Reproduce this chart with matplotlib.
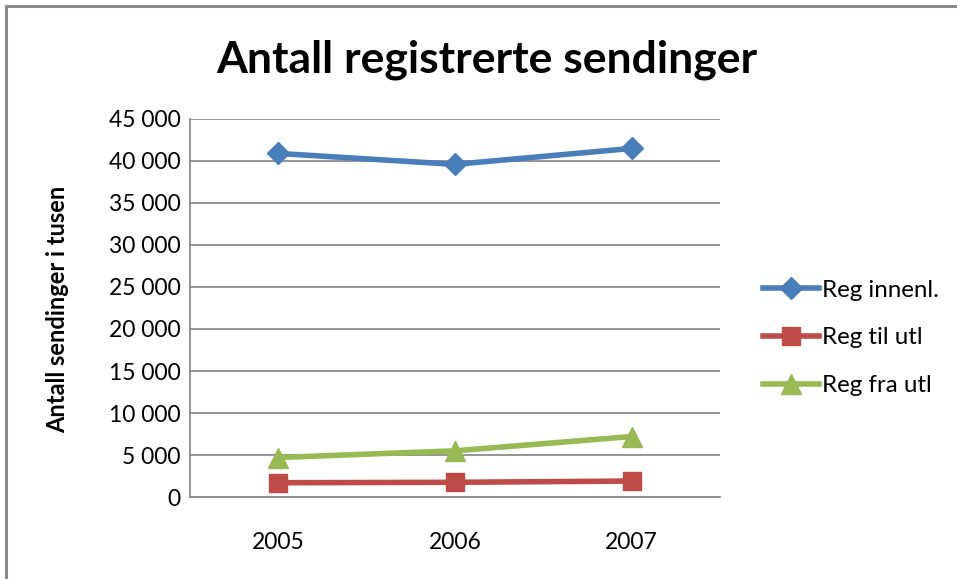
import matplotlib
matplotlib.use("Agg")
import matplotlib.pyplot as plt
from matplotlib.patches import Rectangle
from matplotlib.ticker import FuncFormatter

years = ["2005", "2006", "2007"]
reg_innenl = [40900, 39600, 41500]
reg_til_utl = [1700, 1750, 1900]
reg_fra_utl = [4700, 5500, 7200]
series_names = ["Reg innenl.", "Reg til utl", "Reg fra utl"]
y_ticks = list(range(0, 45001, 5000))

W, H = 957, 579
fig = plt.figure(figsize=(W / 100, H / 100), dpi=100)
plt.rcParams['font.family'] = ['Lato', 'DejaVu Sans']

# outer frame
fig.patches.append(Rectangle((6 / W, -0.1), 1.2, 1 - 6 / H + 0.1, transform=fig.transFigure,
                             fill=False, edgecolor="#8c8c8c", linewidth=2.2))

ax = fig.add_axes([190 / W, 1 - 497 / H, (720 - 190) / W, (497 - 119) / H])
x = list(range(len(years)))

ax.plot(x, reg_innenl, color="#4a7ebb", lw=4, marker="D", ms=11, label=series_names[0], zorder=3)
ax.plot(x, reg_til_utl, color="#be4b48", lw=4, marker="s", ms=13, label=series_names[1], zorder=3)
ax.plot(x, reg_fra_utl, color="#98b954", lw=4, marker="^", ms=14, label=series_names[2], zorder=3)

ax.set_xlim(-0.5, 2.5)
ax.set_ylim(0, 45000)
ax.set_yticks(y_ticks)
ax.yaxis.set_major_formatter(FuncFormatter(lambda v, p: f"{int(v):,}".replace(",", " ")))
ax.set_xticks(x)
ax.set_xticklabels(years)
ax.tick_params(axis="both", length=0, labelsize=16.5, colors="black")
ax.tick_params(axis="y", pad=7)
ax.tick_params(axis="x", pad=25)
ax.grid(axis="y", color="#8c8c8c", lw=1.3)
ax.set_axisbelow(True)
for s in ["top", "right"]:
    ax.spines[s].set_visible(False)
for s in ["left", "bottom"]:
    ax.spines[s].set_color("#8c8c8c")
    ax.spines[s].set_linewidth(1.3)

fig.text(487 / W, 1 - 60 / H, "Antall registrerte sendinger", ha="center", va="center",
         fontsize=32, fontweight="bold")
fig.text(58 / W, 1 - 309 / H, "Antall sendinger i tusen", ha="center", va="center",
         rotation=90, fontsize=17, fontweight="bold")

leg = ax.legend(loc="center left", bbox_to_anchor=(751 / W, 1 - 338 / H),
                bbox_transform=fig.transFigure, frameon=False, fontsize=17.4,
                handlelength=2.3, handletextpad=0.15, labelspacing=1.1, borderpad=0)

fig.savefig("out.png", dpi=100)
